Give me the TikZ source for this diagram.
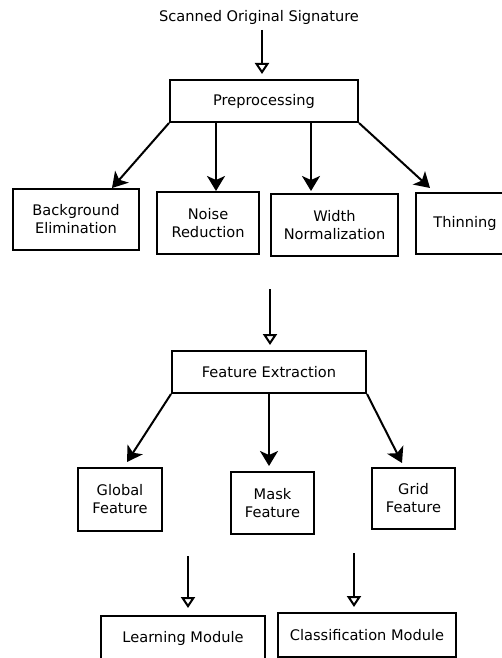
\documentclass[tikz,border=0pt]{standalone}
\usepackage{fontspec}
\setmainfont{DejaVu Sans}
\usetikzlibrary{arrows.meta}
\begin{document}
\begin{tikzpicture}[x=1pt,y=-1pt,
  lbl/.style={font=\fontsize{14.6}{18}\selectfont, inner sep=0pt},
  box/.style={draw, line width=2pt, rectangle, align=center, inner sep=0pt,
    font=\fontsize{14.6}{18}\selectfont},
  solidarrow/.style={line width=2pt, -{Stealth[length=15pt,width=18pt,inset=4pt]}},
  openarrow/.style={line width=2pt, -{Triangle[open,length=11pt,width=14pt]}}]
\useasboundingbox (0,0) rectangle (502,658);
\clip (0,0) rectangle (502,658);
% nodes
\node[lbl] (sig) at (259,17) {Scanned Original Signature};
\node[box, minimum width=188pt, minimum height=42pt] (pre) at (264,101) {Preprocessing};
\node[box, minimum width=126pt, minimum height=61pt] (bg) at (76,219.5) {Background\\Elimination};
\node[box, minimum width=102pt, minimum height=62pt] (noise) at (208,223) {Noise\\Reduction};
\node[box, minimum width=127pt, minimum height=62pt] (width) at (334.5,225) {Width\\Normalization};
\node[box, minimum width=98pt, minimum height=61pt] (thin) at (465,223.5) {Thinning};
\node[box, minimum width=194pt, minimum height=42pt] (fe) at (269,372) {Feature Extraction};
\node[box, minimum width=84pt, minimum height=63pt] (global) at (120,499.5) {Global\\Feature};
\node[box, minimum width=83pt, minimum height=62pt] (mask) at (272.5,503) {Mask\\Feature};
\node[box, minimum width=83pt, minimum height=61pt] (grid) at (413.5,498.5) {Grid\\Feature};
\node[box, minimum width=164pt, minimum height=44pt] (learn) at (183,638) {Learning Module};
\node[box, minimum width=178pt, minimum height=44pt] (class) at (367,635) {Classification Module};
% helper coordinates
\coordinate (s0) at (262,30);
\coordinate (t1) at (112,188);
\coordinate (n0) at (216,0);
\coordinate (w0) at (311,0);
\coordinate (t4) at (430,188);
\coordinate (m0) at (270,289);
\coordinate (g1) at (127,462);
\coordinate (k0) at (269,0);
\coordinate (g3) at (402,463);
\coordinate (l0) at (188,556);
\coordinate (c0) at (354,553);
% connectors
\draw[openarrow, shorten >=5pt] (s0) -- (s0 |- pre.north);
\draw[solidarrow] (pre.south west) -- (t1);
\draw[solidarrow] (n0 |- pre.south) -- (n0 |- noise.north);
\draw[solidarrow, shorten >=2pt] (w0 |- pre.south) -- (w0 |- width.north);
\draw[solidarrow] (pre.south east) -- (t4);
\draw[openarrow, shorten >=5pt] (m0) -- (m0 |- fe.north);
\draw[solidarrow] (fe.south west) -- (g1);
\draw[solidarrow, shorten >=5pt] (k0 |- fe.south) -- (k0 |- mask.north);
\draw[solidarrow] (fe.south east) -- (g3);
\draw[openarrow, shorten >=7pt] (l0) -- (l0 |- learn.north);
\draw[openarrow, shorten >=5pt] (c0) -- (c0 |- class.north);
\end{tikzpicture}
\end{document}
